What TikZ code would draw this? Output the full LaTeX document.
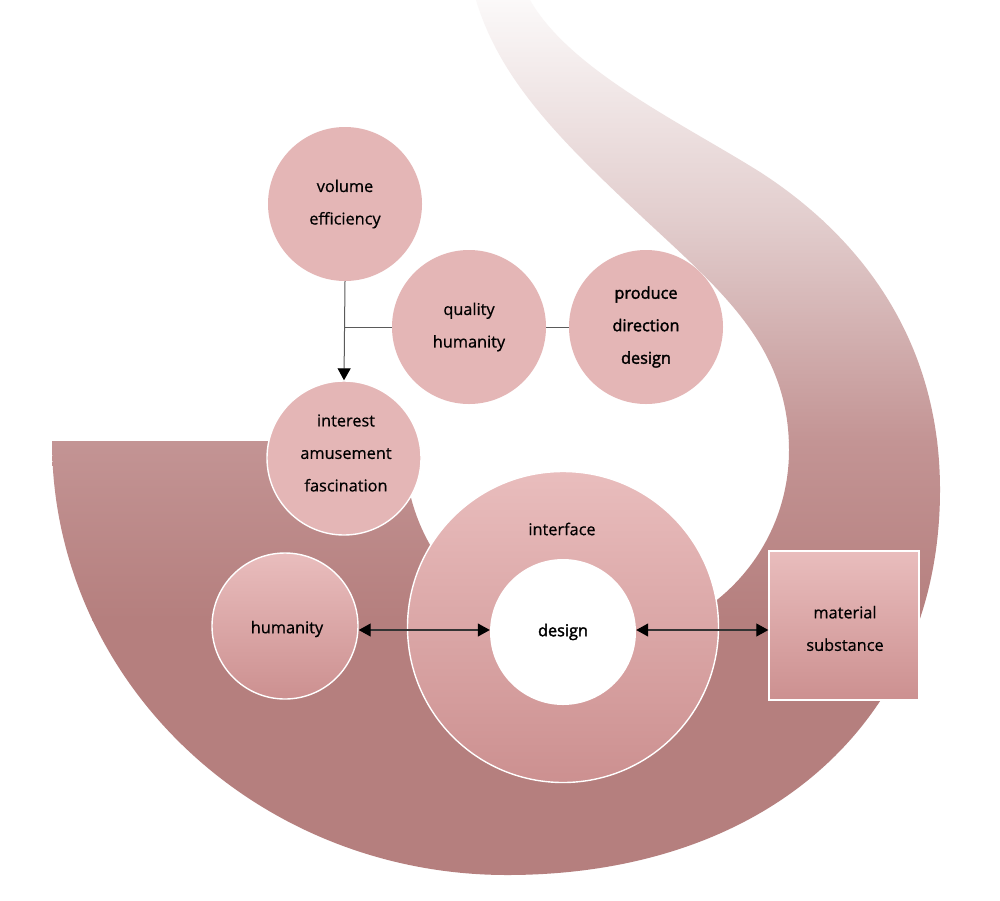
\documentclass[tikz,border=0pt]{standalone}
\usepackage{fontspec}
\setmainfont{Open Sans}
\newfontfamily\medfont{Open Sans}[FakeBold=0.6]
\newfontfamily\semifont{Open Sans}[FakeBold=2.0]
\usetikzlibrary{arrows.meta,calc}
\definecolor{circ}{RGB}{228,182,182}
\definecolor{gtop}{RGB}{233,189,189}
\definecolor{gbot}{RGB}{204,144,144}
\definecolor{r0}{RGB}{251,249,249}
\definecolor{r1}{RGB}{226,205,205}
\definecolor{r2}{RGB}{195,148,148}
\definecolor{r3}{RGB}{181,127,126}
\definecolor{lineg}{RGB}{90,90,90}
\newcommand{\txtfont}{\medfont\fontsize{16.3}{32.5}\selectfont}
\newcommand{\boldtxt}{\semifont\fontsize{16.3}{32.5}\selectfont}
\tikzset{
  mytip/.tip={Triangle[length=12pt,width=13pt,color=black]},
  topcirc/.style={circle, fill=circ, minimum size=154pt, inner sep=0pt, align=center, font=\txtfont},
  gradcirc/.style={circle, top color=gtop, bottom color=gbot, draw=white, line width=1.4pt, inner sep=0pt, align=center, font=\txtfont},
  lbl/.style={align=center, font=\txtfont, inner sep=0pt},
  conn/.style={draw=lineg, line width=1pt},
  dbl/.style={draw=black!80, line width=1.1pt, mytip-mytip}
}
\begin{document}
\begin{tikzpicture}[x=1pt,y=-1pt]
\useasboundingbox (0,0) rectangle (1000,900);
\fill[white] (0,0) rectangle (1000,900);
% ribbon background shape
\begin{scope}
\clip (52,441) -- (405,441) -- (405,450)
  arc[start angle=180, end angle=0, radius=192]
  .. controls (789,345) and (720,290) .. (640,215)
  .. controls (560,140) and (500,80) .. (476,0)
  -- (530,0)
  .. controls (570,70) and (680,122) .. (760,172)
  .. controls (850,230) and (940,330) .. (940,490)
  .. controls (940,721) and (767,875) .. (507,875)
  .. controls (256,875) and (52,681) .. (52,441) -- cycle;
\shade[top color=r0, bottom color=r1] (0,-1) rectangle (1000,220);
\shade[top color=r1, bottom color=r2] (0,220) rectangle (1000,441);
\shade[top color=r2, bottom color=r3] (0,441) rectangle (1000,620);
\fill[r3] (0,620) rectangle (1000,900);
\end{scope}
% upper circles
\node[topcirc] (vol) at (345,204) {volume\\efficiency};
\node[topcirc] (qual) at (469,327) {quality\\humanity};
\node[topcirc, font=\boldtxt] (prod) at (646,327) {produce\\direction\\design};
\node[topcirc, draw=white, line width=1.4pt] (int) at (344,458) {};
\node[lbl] (inttxt) at ($(int)+(2,-5)$) {interest\\amusement\\fascination};
% lower nodes
\node[gradcirc, minimum size=146pt] (hum) at (285,626) {};
\node[lbl] (humtxt) at ($(hum)+(2,3)$) {humanity};
\node[gradcirc, minimum size=311pt] (ring) at (563,627) {};
\node[lbl] (iflab) at (562,529) {interface};
\node[circle, fill=white, minimum size=146pt, inner sep=0pt, font=\boldtxt] (des) at (563,632) {design};
\node[rectangle, top color=gtop, bottom color=gbot, draw=white, line width=1.4pt, minimum width=150pt, minimum height=149pt, inner sep=0pt] (mat) at (844,625.5) {};
\node[lbl] (mattxt) at ($(mat)+(1,3)$) {material\\substance};
% connectors
\coordinate (j) at (345,327);
\draw[conn, -mytip] (vol.south) -- (int.north);
\draw[conn] (qual.west) -- (j);
\draw[conn] (qual.east) -- (prod.west);
\draw[dbl] (hum.east |- 0,630) -- (des.west |- 0,630);
\draw[dbl] (des.east |- 0,630) -- (mat.west |- 0,630);
\end{tikzpicture}
\end{document}
